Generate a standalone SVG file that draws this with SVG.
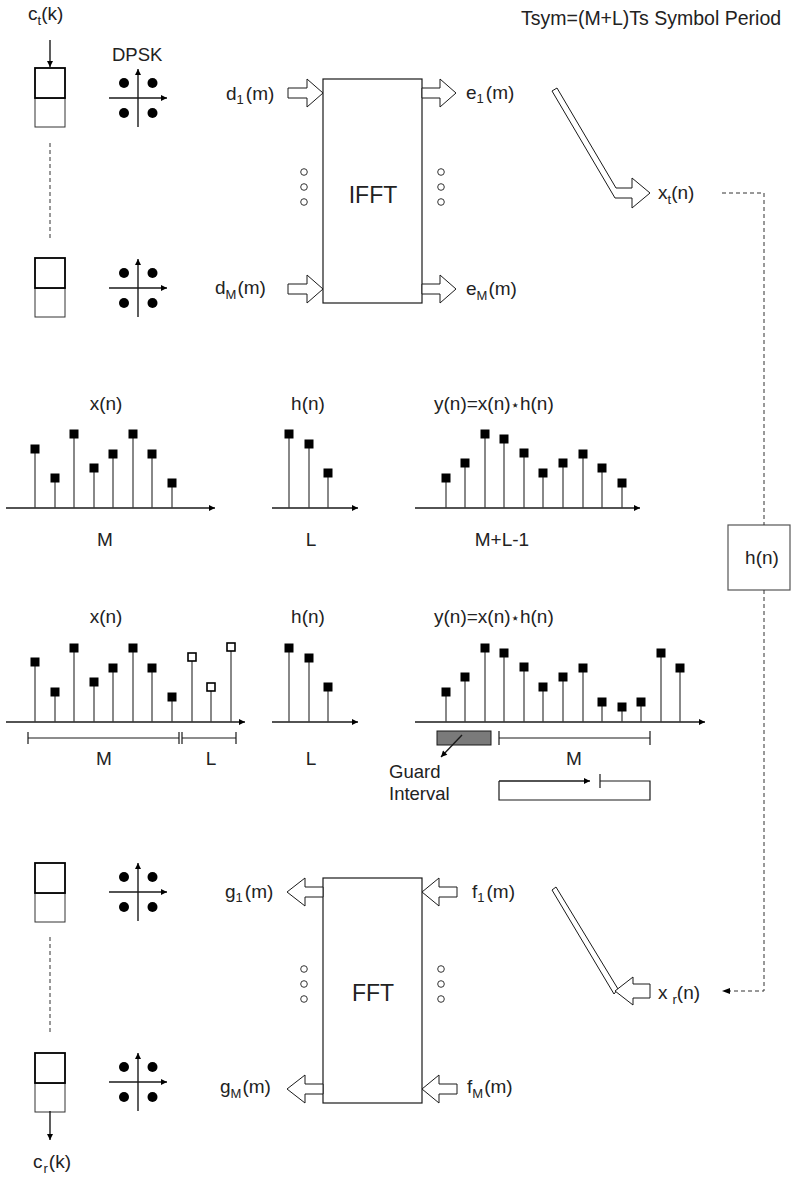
<svg xmlns="http://www.w3.org/2000/svg" width="791" height="1177" viewBox="0 0 791 1177">
<defs>
<style>
text{font-family:"Liberation Sans",Arial,sans-serif;fill:#222;font-size:19px}
.sub{font-size:13px}
.mid{text-anchor:middle}
.stem{stroke:#3a3a3a;stroke-width:1.2;fill:none}
.ax{stroke:#1a1a1a;stroke-width:1.4;fill:none;marker-end:url(#ah)}
.mk{fill:#000}
.mko{fill:#fff;stroke:#000;stroke-width:1.6}
.hol{fill:#fff;stroke:#1a1a1a;stroke-width:1}
.dash{stroke:#333;stroke-width:1;stroke-dasharray:4 3;fill:none}
.sm{fill:none;stroke:#333;stroke-width:1}
.bt{fill:#fff;stroke:#000;stroke-width:1.8}
.bb{fill:#fff;stroke:#333;stroke-width:1}
.blk{fill:#fff;stroke:#1a1a1a;stroke-width:1.2}
.thin{stroke:#1a1a1a;stroke-width:1.2;fill:none}
</style>
<marker id="ah" viewBox="0 0 10 10" refX="10" refY="5" markerWidth="9" markerHeight="6" markerUnits="userSpaceOnUse" orient="auto"><path d="M0,0 L10,5 L0,10 z" fill="#000"/></marker>
<g id="qpsk">
<path class="ax" d="M0,29 V-29"/>
<path class="ax" d="M-29,0 H29"/>
<circle cx="-14" cy="-15" r="5" fill="#000"/>
<circle cx="14.5" cy="-15" r="5" fill="#000"/>
<circle cx="-14" cy="15" r="5" fill="#000"/>
<circle cx="14.5" cy="15" r="5" fill="#000"/>
</g>
<g id="reg">
<rect class="bb" x="0" y="30" width="30" height="29"/>
<rect class="bt" x="0" y="0" width="30" height="30"/>
</g>
<g id="ooo">
<circle class="sm" cx="0" cy="0" r="3.3"/>
<circle class="sm" cx="0" cy="15" r="3.3"/>
<circle class="sm" cx="0" cy="30" r="3.3"/>
</g>
</defs>
<rect width="791" height="1177" fill="#fff"/>

<text id="title" x="521" y="25" style="font-size:19.5px">Tsym=(M+L)Ts Symbol Period</text>

<!-- transmitter side -->
<g id="tx-input">
<text x="28" y="20">c<tspan class="sub" dy="5">t</tspan><tspan dy="-5">(k)</tspan></text>
<use href="#reg" x="35" y="68"/>
<use href="#reg" x="35" y="258"/>
</g>
<g id="tx-dpsk">
<text x="112" y="61" style="font-size:18.5px">DPSK</text>
<use href="#qpsk" x="138" y="98"/>
<use href="#qpsk" x="138" y="288"/>
</g>
<g id="ifft">
<rect class="blk" x="323" y="79" width="99" height="224"/>
<text class="mid" x="373" y="203" style="font-size:23px">IFFT</text>
<use href="#ooo" x="304" y="172"/>
<use href="#ooo" x="441" y="172"/>
</g>
<g id="ifft-labels">
<text x="226" y="100">d<tspan class="sub" dy="4">1</tspan><tspan dx="2" dy="-4">(m)</tspan></text>
<text x="215" y="294">d<tspan class="sub" dy="5">M</tspan><tspan dx="1" dy="-5">(m)</tspan></text>
<text x="466" y="99">e<tspan class="sub" dy="4">1</tspan><tspan dx="2" dy="-4">(m)</tspan></text>
<text x="466" y="295">e<tspan class="sub" dy="5">M</tspan><tspan dx="1" dy="-5">(m)</tspan></text>
<text x="658" y="199">x<tspan class="sub" dy="5">t</tspan><tspan dy="-5">(n)</tspan></text>
</g>

<!-- channel -->
<g id="channel">
<rect x="728" y="525" width="62" height="65" fill="#fff" stroke="#555" stroke-width="1.2"/>
<text class="mid" x="762" y="564">h(n)</text>
</g>

<!-- linear convolution -->
<g id="conv-linear">
<text class="mid" x="106" y="410">x(n)</text>
<path class="ax" d="M6,508 H215"/>
<path class="stem" d="M35,508V449M55,508V478M74,508V434M94,508V468M113,508V454M133,508V434M152,508V454M172,508V483"/>
<g class="mk">
<rect x="30.5" y="444.5" width="9" height="9"/><rect x="50.5" y="473.5" width="9" height="9"/><rect x="69.5" y="429.5" width="9" height="9"/><rect x="89.5" y="463.5" width="9" height="9"/><rect x="108.5" y="449.5" width="9" height="9"/><rect x="128.5" y="429.5" width="9" height="9"/><rect x="147.5" y="449.5" width="9" height="9"/><rect x="167.5" y="478.5" width="9" height="9"/>
</g>
<text class="mid" x="105" y="546">M</text>

<text class="mid" x="308" y="410">h(n)</text>
<path class="ax" d="M272,508 H358"/>
<path class="stem" d="M289,508V434M309,508V444M328,508V473"/>
<g class="mk">
<rect x="284.5" y="429.5" width="9" height="9"/><rect x="304.5" y="439.5" width="9" height="9"/><rect x="323.5" y="468.5" width="9" height="9"/>
</g>
<text class="mid" x="311" y="546">L</text>

<text x="434" y="410">y(n)=x(n)<tspan style="font-family:'DejaVu Sans',sans-serif;font-size:15px">⋆</tspan>h(n)</text>
<path class="ax" d="M415,508 H640"/>
<path class="stem" d="M446,508V478M465,508V463M485,508V434M504,508V439M524,508V453M543,508V473M563,508V463M583,508V454M602,508V468M622,508V483"/>
<g class="mk">
<rect x="441.5" y="473.5" width="9" height="9"/><rect x="460.5" y="458.5" width="9" height="9"/><rect x="480.5" y="429.5" width="9" height="9"/><rect x="499.5" y="434.5" width="9" height="9"/><rect x="519.5" y="448.5" width="9" height="9"/><rect x="538.5" y="468.5" width="9" height="9"/><rect x="558.5" y="458.5" width="9" height="9"/><rect x="578.5" y="449.5" width="9" height="9"/><rect x="597.5" y="463.5" width="9" height="9"/><rect x="617.5" y="478.5" width="9" height="9"/>
</g>
<text class="mid" x="502" y="546">M+L-1</text>
</g>

<!-- cyclic prefix convolution -->
<g id="conv-cyclic">
<text class="mid" x="106" y="623">x(n)</text>
<path class="ax" d="M6,722 H245"/>
<path class="stem" d="M35,722V662M55,722V692M74,722V648M94,722V682M113,722V668M133,722V648M152,722V668M172,722V697M192,722V657M211,722V687M231,722V647"/>
<g class="mk">
<rect x="30.5" y="657.5" width="9" height="9"/><rect x="50.5" y="687.5" width="9" height="9"/><rect x="69.5" y="643.5" width="9" height="9"/><rect x="89.5" y="677.5" width="9" height="9"/><rect x="108.5" y="663.5" width="9" height="9"/><rect x="128.5" y="643.5" width="9" height="9"/><rect x="147.5" y="663.5" width="9" height="9"/><rect x="167.5" y="692.5" width="9" height="9"/>
</g>
<g class="mko">
<rect x="188" y="653" width="8" height="8"/><rect x="207" y="683" width="8" height="8"/><rect x="227" y="643" width="8" height="8"/>
</g>
<path class="thin" d="M28,738H179M28,732V744M179,732V744M182,732V744M182,738H236M236,732V744"/>
<text class="mid" x="104" y="765">M</text>
<text class="mid" x="211" y="765">L</text>

<text class="mid" x="308" y="623">h(n)</text>
<path class="ax" d="M272,722 H358"/>
<path class="stem" d="M289,722V648M309,722V658M328,722V687"/>
<g class="mk">
<rect x="284.5" y="643.5" width="9" height="9"/><rect x="304.5" y="653.5" width="9" height="9"/><rect x="323.5" y="682.5" width="9" height="9"/>
</g>
<text class="mid" x="311" y="765">L</text>

<text x="434" y="623">y(n)=x(n)<tspan style="font-family:'DejaVu Sans',sans-serif;font-size:15px">⋆</tspan>h(n)</text>
<path class="ax" d="M415,722 H705"/>
<path class="stem" d="M446,722V692M465,722V677M485,722V648M504,722V653M524,722V667M543,722V687M563,722V677M583,722V668M602,722V702M622,722V707M641,722V702M661,722V653M680,722V668"/>
<g class="mk">
<rect x="441.5" y="687.5" width="9" height="9"/><rect x="460.5" y="672.5" width="9" height="9"/><rect x="480.5" y="643.5" width="9" height="9"/><rect x="499.5" y="648.5" width="9" height="9"/><rect x="519.5" y="662.5" width="9" height="9"/><rect x="538.5" y="682.5" width="9" height="9"/><rect x="558.5" y="672.5" width="9" height="9"/><rect x="578.5" y="663.5" width="9" height="9"/><rect x="597.5" y="697.5" width="9" height="9"/><rect x="617.5" y="702.5" width="9" height="9"/><rect x="636.5" y="697.5" width="9" height="9"/><rect x="656.5" y="648.5" width="9" height="9"/><rect x="675.5" y="663.5" width="9" height="9"/>
</g>
<rect x="437" y="731" width="54" height="14" fill="#7a7a7a" stroke="#1a1a1a" stroke-width="1"/>
<path class="ax" d="M462,735 L441,757"/>
<text x="389" y="778" style="font-size:18.5px">Guard</text>
<text x="389" y="800" style="font-size:18.5px">Interval</text>
<path class="thin" d="M499,738H650M499,731V745M650,731V745"/>
<text class="mid" x="574" y="765">M</text>
<path class="thin" d="M600,781H650V800H499V781M600,774V788"/>
<path class="ax" d="M499,781 H590"/>
</g>

<!-- receiver side -->
<g id="fft">
<rect class="blk" x="323" y="878" width="99" height="225"/>
<text class="mid" x="373" y="1001" style="font-size:23px">FFT</text>
<use href="#ooo" x="304" y="969"/>
<use href="#ooo" x="441" y="969"/>
</g>
<g id="fft-labels">
<text x="225" y="898">g<tspan class="sub" dy="4">1</tspan><tspan dx="2" dy="-4">(m)</tspan></text>
<text x="220" y="1093">g<tspan class="sub" dy="5">M</tspan><tspan dx="1" dy="-5">(m)</tspan></text>
<text x="472" y="898">f<tspan class="sub" dy="4">1</tspan><tspan dx="2" dy="-4">(m)</tspan></text>
<text x="467" y="1093">f<tspan class="sub" dy="5">M</tspan><tspan dx="1" dy="-5">(m)</tspan></text>
<text x="658" y="999">x<tspan class="sub" dx="5" dy="5">r</tspan><tspan dy="-5">(n)</tspan></text>
</g>
<g id="rx-dpsk">
<use href="#qpsk" x="138" y="892"/>
<use href="#qpsk" x="138" y="1082"/>
</g>
<g id="rx-output">
<use href="#reg" x="35" y="863"/>
<use href="#reg" x="35" y="1053"/>
<text x="33" y="1168">c<tspan class="sub" dx="1" dy="5">r</tspan><tspan dx="1" dy="-5">(k)</tspan></text>
</g>

<!-- connectors -->
<g id="connectors">
<path class="ax" d="M50,40 V67" stroke-width="1.2"/>
<path class="dash" d="M50,143 V241"/>
<path class="dash" d="M50,937 V1034"/>
<path class="ax" d="M50,1111 V1140" stroke-width="1.2"/>
<g class="hol">
<path d="M288,88 H307 V79 L323,93 L307,107 V98 H288 Z"/>
<path d="M288,284 H307 V275 L323,289 L307,303 V294 H288 Z"/>
<path d="M422,88 H440 V79 L456,93 L440,107 V98 H422 Z"/>
<path d="M422,284 H440 V275 L456,289 L440,303 V294 H422 Z"/>
<path d="M552,91 L557,88 L616,188 H632 V178 L650,193 L632,208 V198 H615 Z"/>
<path d="M323,887 H305 V878 L287,892 L305,906 V897 H323 Z"/>
<path d="M323,1084 H305 V1075 L287,1089 L305,1103 V1094 H323 Z"/>
<path d="M457,887 H439 V878 L422,892 L439,906 V897 H457 Z"/>
<path d="M457,1084 H439 V1075 L422,1089 L439,1103 V1094 H457 Z"/>
<path d="M552,890 L556,887 L618,989 L614,994 Z"/>
<path d="M650,984 H633 V977 L615,991 L633,1005 V998 H650 Z"/>
</g>
<path class="dash" d="M722,193 H764 V525"/>
<path class="dash" d="M764,590 V991 H726"/>
<path d="M722,991 L730,988 L730,994 Z" fill="#000"/>
</g>
</svg>
